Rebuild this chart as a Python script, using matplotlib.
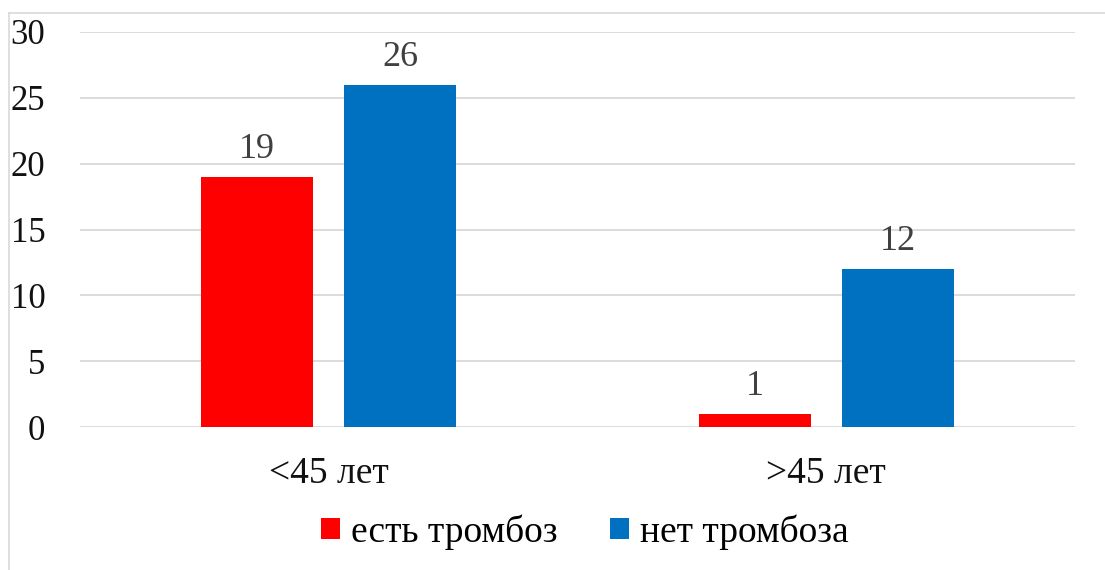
import numpy as np
import matplotlib
matplotlib.use('Agg')
import matplotlib.pyplot as plt
from matplotlib.patches import Patch
from matplotlib.lines import Line2D

# age groups and patient counts
groups = ['<45 лет', '>45 лет']
thrombosis_yes = [19, 1]
thrombosis_no = [26, 12]
series_names = ['есть тромбоз', 'нет тромбоза']
yticks = [0, 5, 10, 15, 20, 25, 30]

plt.rcParams['font.family'] = ['Liberation Serif', 'DejaVu Serif']

fig = plt.figure(figsize=(11.05, 5.70), dpi=100)
ax = fig.add_axes([80/1105, 1-427/570, 995/1105, 395/570])

x = np.arange(len(groups))
w = 0.225
gap = 0.062
off = (w + gap) / 2
b1 = ax.bar(x - off, thrombosis_yes, w, color='#FF0000', zorder=3)
b2 = ax.bar(x + off, thrombosis_no, w, color='#0070C0', zorder=3)

for bars, vals in ((b1, thrombosis_yes), (b2, thrombosis_no)):
    for r, v in zip(bars, vals):
        ax.annotate(str(v), (r.get_x() + r.get_width()/2, v),
                    xytext=(0, 8), textcoords='offset points',
                    ha='center', va='bottom', fontsize=26, color='#404040')

ax.set_xlim(-0.5, 1.5)
ax.set_ylim(0, 30)
ax.set_yticks(yticks)
ax.set_xticks(x)
ax.set_xticklabels(groups)
ax.tick_params(axis='y', length=0, pad=25, labelsize=25, labelcolor='#111111')
ax.tick_params(axis='x', length=0, pad=21, labelsize=27, labelcolor='#111111')
for lbl in ax.get_yticklabels():
    lbl.set_horizontalalignment('right')
ax.grid(axis='y', color='#d9d9d9', linewidth=1.3, zorder=0)
for s in ax.spines.values():
    s.set_visible(False)

handles = [Patch(facecolor='#FF0000'), Patch(facecolor='#0070C0')]
fig.legend(handles, series_names, loc='center', bbox_to_anchor=(585/1105, 1-532/570),
           ncol=2, frameon=False, fontsize=27, handlelength=0.5, handleheight=0.5,
           handletextpad=0.3, columnspacing=1.4)

# thin outer frame along top and left
fig.add_artist(Line2D([9/1105, 9/1105], [0, 1-13/570], transform=fig.transFigure,
                      color='#d9d9d9', linewidth=1.2))
fig.add_artist(Line2D([9/1105, 1], [1-13/570, 1-13/570], transform=fig.transFigure,
                      color='#d9d9d9', linewidth=1.2))

fig.savefig('out.png', dpi=100, facecolor='white')
